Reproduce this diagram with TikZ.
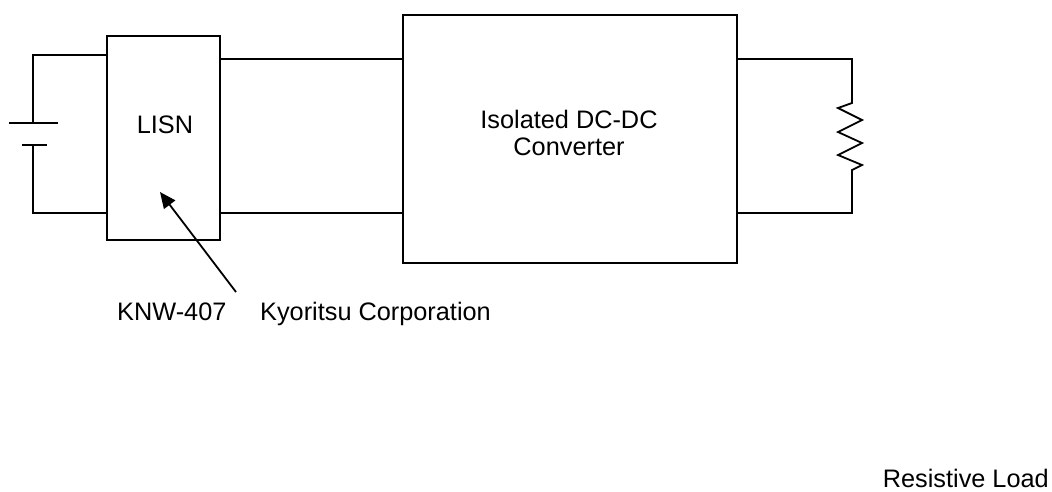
\documentclass[tikz,border=0pt]{standalone}
\usepackage{fontspec}
\setmainfont{Liberation Sans}
\usetikzlibrary{arrows.meta}
\begin{document}
\begin{tikzpicture}[x=1pt,y=-1pt,
  wire/.style={line width=1.8pt,line cap=rect},
  boxstyle/.style={draw,line width=1.8pt,rectangle,inner sep=0pt},
  lbl/.style={inner sep=0pt,font=\fontsize{25.3}{27}\selectfont},
  pointer/.style={line width=1.8pt,-{Triangle[length=16pt,width=14pt]}}]
\useasboundingbox (0,0) rectangle (1052,491);
% boxes
\node[boxstyle,minimum width=113pt,minimum height=204pt] (lisn) at (163.5,138) {};
\node[boxstyle,minimum width=334pt,minimum height=248pt] (conv) at (570,139) {};
\node[lbl,anchor=base] (lisnlabel) at (165,133) {LISN};
\node[lbl,anchor=base,align=center] (convlabel) at (569,155) {Isolated DC-DC\\Converter};
% battery
\coordinate (bt) at (33,55);
\coordinate (bb) at (33,213);
\coordinate (plA) at (33,123);
\coordinate (plB) at (33,145);
\draw[wire] (lisn.west |- bt) -- (bt) -- (plA);
\draw[wire] (plB) -- (bb) -- (lisn.west |- bb);
\draw[wire] (10,123) -- (57,123);
\draw[wire] (23,145) -- (46,145);
% LISN to converter
\draw[wire] (lisn.east |- 0,59) -- (conv.west |- 0,59);
\draw[wire] (lisn.east |- 0,213) -- (conv.west |- 0,213);
% output and resistor
\coordinate (rt) at (852,59);
\coordinate (rb) at (852,213);
\draw[wire,line join=miter] (conv.east |- rt) -- (rt) -- (852,103) -- (838,108) -- (862,120) -- (838,132) -- (862,143) -- (838,155) -- (862,165) -- (852,170) -- (rb) -- (conv.east |- rb);
% annotations
\node[lbl,anchor=base west] (part) at (117,320) {KNW-407};
\node[lbl,anchor=base west] (maker) at (260,320) {Kyoritsu Corporation};
\coordinate (tail) at (236,292);
\coordinate (tip) at (160,192);
\draw[pointer] (tail) -- (tip);
\node[lbl,anchor=base east] (load) at (1049,487) {Resistive Load};
\end{tikzpicture}
\end{document}
